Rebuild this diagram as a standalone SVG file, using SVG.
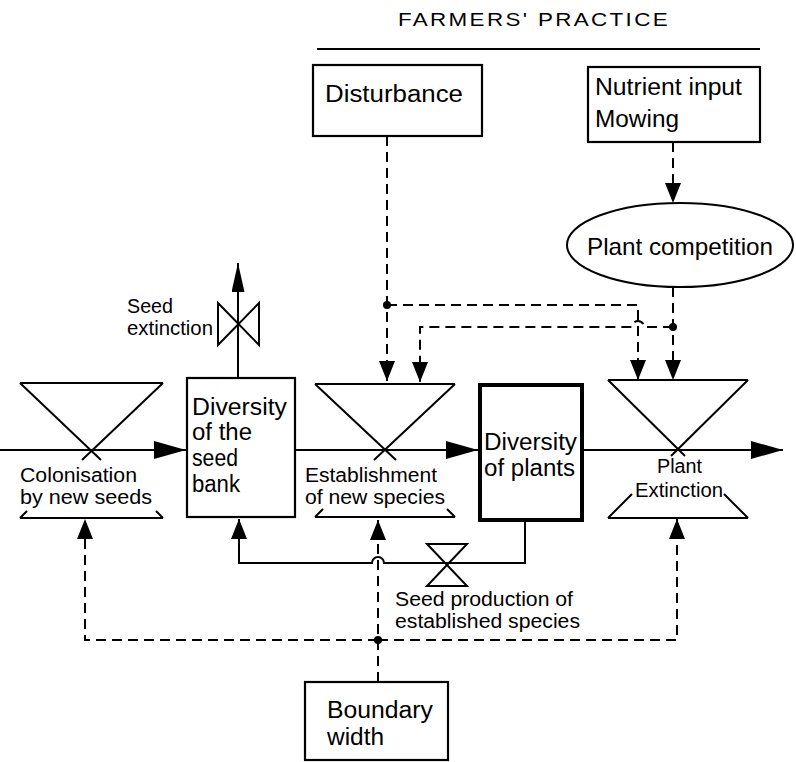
<svg xmlns="http://www.w3.org/2000/svg" width="796" height="762" viewBox="0 0 796 762">
<style>
text{font-family:"Liberation Sans",Arial,Helvetica,sans-serif;fill:#000}
.t23{font-size:23px}
.t20{font-size:20px}
.ln{fill:none;stroke:#000;stroke-width:2}
.ds{fill:none;stroke:#000;stroke-width:2;stroke-dasharray:10 6}
.box{fill:#fff;stroke:#000;stroke-width:2.2}
.dot{fill:#000}
</style>
<defs>
<marker id="ah" markerUnits="userSpaceOnUse" markerWidth="20" markerHeight="16" viewBox="0 0 20 16" refX="20" refY="8" orient="auto"><path d="M0,0 L20,8 L0,16 Z" fill="#000"/></marker>
<marker id="fh" markerUnits="userSpaceOnUse" markerWidth="32" markerHeight="18" viewBox="0 0 32 18" refX="32" refY="9" orient="auto"><path d="M0,0 L32,9 L0,18 Z" fill="#000"/></marker>
<marker id="th" markerUnits="userSpaceOnUse" markerWidth="29" markerHeight="13" viewBox="0 0 29 13" refX="29" refY="6.5" orient="auto"><path d="M0,0 L29,6.5 L0,13 Z" fill="#000"/></marker>
</defs>
<rect width="796" height="762" fill="#fff"/>

<g id="title">
<text x="398" y="26" style="font-size:19px;letter-spacing:2px" textLength="272" lengthAdjust="spacingAndGlyphs">FARMERS' PRACTICE</text>
<line class="ln" x1="317" y1="49" x2="760" y2="49"/>
</g>

<g id="connectors">
<path class="ln" d="M0,450 H186" marker-end="url(#fh)"/>
<path class="ln" d="M295,450 H478" marker-end="url(#fh)"/>
<path class="ln" d="M584,450 H783" marker-end="url(#fh)"/>
<path class="ln" d="M238,378 V263" marker-end="url(#th)"/>
<path class="ln" d="M525,521 V563 H384 A6,6 0 0 0 372,563 H239 V519" marker-end="url(#ah)"/>
<path class="ds" d="M387,136 V381" marker-end="url(#ah)"/>
<path class="ds" d="M387,305 H638 V380" marker-end="url(#ah)"/>
<path class="ds" d="M673,142 V203" marker-end="url(#ah)"/>
<path class="ds" d="M673,287 V380" marker-end="url(#ah)"/>
<path class="ds" d="M673,327 H644 A6,6 0 0 0 632,327 H420 V382" marker-end="url(#ah)"/>
<path class="ds" d="M378,682 V520" marker-end="url(#ah)"/>
<path class="ds" d="M378,640 H85 V519" marker-end="url(#ah)"/>
<path class="ds" d="M378,640 H677 V519" marker-end="url(#ah)"/>
<circle class="dot" cx="387" cy="305" r="4"/>
<circle class="dot" cx="673" cy="327" r="4"/>
<circle class="dot" cx="378" cy="640" r="4"/>
</g>

<g id="disturbance">
<rect class="box" x="313" y="65" width="169" height="71"/>
<text class="t23" x="325" y="102" textLength="138" lengthAdjust="spacingAndGlyphs">Disturbance</text>
</g>

<g id="nutrient-input">
<rect class="box" x="588" y="67" width="172" height="75"/>
<text class="t23" x="595" y="95" textLength="147" lengthAdjust="spacingAndGlyphs">Nutrient input</text>
<text class="t23" x="595" y="127" textLength="84" lengthAdjust="spacingAndGlyphs">Mowing</text>
</g>

<g id="plant-competition">
<ellipse cx="680" cy="245" rx="113" ry="42" fill="#fff" stroke="#000" stroke-width="2"/>
<text x="587" y="255" style="font-size:24px" textLength="186" lengthAdjust="spacingAndGlyphs">Plant competition</text>
</g>

<g id="seed-extinction">
<path class="ln" d="M218,303 L259,345 V303 L218,345 Z"/>
<text class="t20" x="127" y="313" textLength="46" lengthAdjust="spacingAndGlyphs">Seed</text>
<text class="t20" x="127" y="335" textLength="86" lengthAdjust="spacingAndGlyphs">extinction</text>
</g>

<g id="colonisation">
<path class="ln" d="M20,383 H163 M20,383 L101,460 M163,383 L82,460 M20,518 H163 M20,518 L27,511 M163,518 L156,511"/>
<text class="t20" x="20" y="482" textLength="117" lengthAdjust="spacingAndGlyphs">Colonisation</text>
<text class="t20" x="20" y="504" textLength="132" lengthAdjust="spacingAndGlyphs">by new seeds</text>
</g>

<g id="seed-bank">
<rect class="box" x="187" y="378" width="108" height="139"/>
<text class="t23" x="192" y="415" textLength="95" lengthAdjust="spacingAndGlyphs">Diversity</text>
<text class="t23" x="192" y="440" textLength="60" lengthAdjust="spacingAndGlyphs">of the</text>
<text class="t23" x="192" y="466" textLength="46" lengthAdjust="spacingAndGlyphs">seed</text>
<text class="t23" x="192" y="492" textLength="48" lengthAdjust="spacingAndGlyphs">bank</text>
</g>

<g id="establishment">
<path class="ln" d="M315,384 H455 M315,384 L396,460 M455,384 L374,460 M315,517 H455 M315,517 L323,509 M455,517 L447,509"/>
<text class="t20" x="305" y="482" textLength="132" lengthAdjust="spacingAndGlyphs">Establishment</text>
<text class="t20" x="305" y="504" textLength="140" lengthAdjust="spacingAndGlyphs">of new species</text>
</g>

<g id="plants">
<rect x="480" y="385" width="102" height="135" fill="#fff" stroke="#000" stroke-width="4"/>
<text class="t23" x="484" y="450" textLength="93" lengthAdjust="spacingAndGlyphs">Diversity</text>
<text class="t23" x="484" y="476" textLength="91" lengthAdjust="spacingAndGlyphs">of plants</text>
</g>

<g id="plant-extinction">
<path class="ln" d="M608,380 H748 M608,380 L685,456 M748,380 L671,456 M608,518 H748 M608,518 L632,494 M748,518 L724,494"/>
<text class="t20" x="657" y="473" textLength="45" lengthAdjust="spacingAndGlyphs">Plant</text>
<text class="t20" x="635" y="497" textLength="88" lengthAdjust="spacingAndGlyphs">Extinction</text>
</g>

<g id="seed-production">
<path class="ln" d="M427,544 H467 L427,586 H467 Z"/>
<text class="t20" x="395" y="606" textLength="178" lengthAdjust="spacingAndGlyphs">Seed production of</text>
<text class="t20" x="395" y="628" textLength="185" lengthAdjust="spacingAndGlyphs">established species</text>
</g>

<g id="boundary-width">
<rect class="box" x="305" y="682" width="143" height="78"/>
<text class="t23" x="327" y="718" textLength="106" lengthAdjust="spacingAndGlyphs">Boundary</text>
<text class="t23" x="327" y="745" textLength="57" lengthAdjust="spacingAndGlyphs">width</text>
</g>
</svg>
